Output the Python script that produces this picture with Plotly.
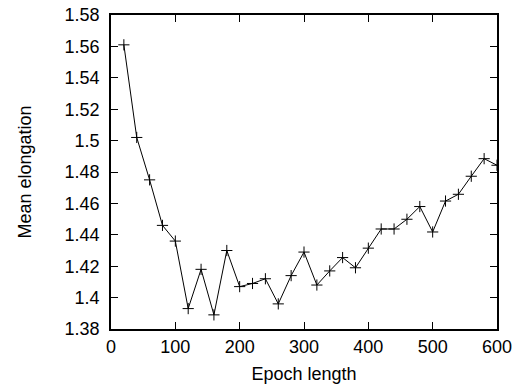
import plotly.graph_objects as go

epoch = [20, 40, 60, 80, 100, 120, 140, 160, 180, 200, 220, 240, 260, 280, 300,
         320, 340, 360, 380, 400, 420, 440, 460, 480, 500, 520, 540, 560, 580, 600]
elong = [1.561, 1.502, 1.475, 1.446, 1.436, 1.393, 1.418, 1.389, 1.430, 1.407,
         1.409, 1.412, 1.396, 1.414, 1.429, 1.408, 1.417, 1.4255, 1.419, 1.4315,
         1.4437, 1.4437, 1.4499, 1.458, 1.4418, 1.4615, 1.4658, 1.4773, 1.4885, 1.4843]
xticks = [0, 100, 200, 300, 400, 500, 600]
yticks = [1.38, 1.40, 1.42, 1.44, 1.46, 1.48, 1.50, 1.52, 1.54, 1.56, 1.58]
ylabels = ["1.38", "1.4", "1.42", "1.44", "1.46", "1.48", "1.5", "1.52", "1.54", "1.56", "1.58"]

fig = go.Figure()
fig.add_trace(go.Scatter(
    x=epoch, y=elong, mode="lines+markers",
    line=dict(color="black", width=1),
    marker=dict(symbol="cross-thin", size=8, line=dict(color="black", width=1)),
    showlegend=False,
))

font = dict(family="Liberation Sans, Arial, sans-serif", size=18, color="black")
fig.update_layout(
    width=526, height=387,
    margin=dict(l=111, r=29, t=15, b=58),
    paper_bgcolor="white", plot_bgcolor="white",
    font=font,
    xaxis=dict(
        range=[0, 600], tickvals=xticks, ticktext=[str(v) for v in xticks],
        ticks="inside", ticklen=7, tickcolor="black", tickwidth=1,
        showline=True, linecolor="black", linewidth=1.5, mirror="ticks",
        showgrid=False, zeroline=False, ticklabelstandoff=1, automargin=False,
        title=dict(text="Epoch length", standoff=11, font=font),
    ),
    yaxis=dict(
        range=[1.38, 1.58], tickvals=yticks, ticktext=ylabels,
        ticks="inside", ticklen=7, tickcolor="black", tickwidth=1,
        showline=True, linecolor="black", linewidth=1.5, mirror="ticks",
        showgrid=False, zeroline=False, ticklabelstandoff=6, automargin=False,
        title=dict(text="Mean elongation", standoff=28, font=font),
    ),
)
fig.write_html("out.html")
